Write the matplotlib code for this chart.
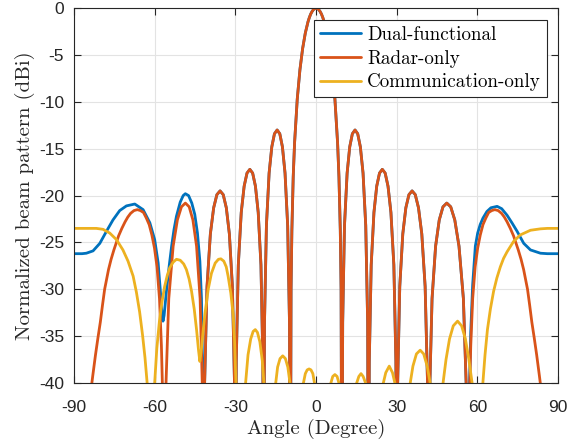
import numpy as np
import matplotlib
matplotlib.use("Agg")
import matplotlib.pyplot as plt

# beam pattern samples, angle in degrees / gain in dB (values below -40 are just off-axis)
radar_angle = [
    -90, -84.0, -83.0, -82.0, -81.1, -80.2, -79.4, -78.6, -77.16, -76.2, -75.16, -73.41, -72.2, -71.0,
    -70.0, -68.96, -67.7, -66.44, -65.3, -64.16, -63.1, -62.04,
    -61.04, -60.07, -59.13, -58.21, -57.5, -56.97, -56.44,
    -55.93, -54.76, -53.13, -51.56, -50.05, -48.59, -47.17, -45.79, -44.43, -43.11, -42.20, -41.81,
    -41.43, -40.54, -39.30, -38.07, -36.87, -35.69, -34.52, -33.37, -32.23, -31.11, -30.33, -30.0,
    -29.67, -28.91, -27.82, -26.74, -25.68, -24.62, -23.58, -22.54, -21.51, -20.49, -19.78, -19.47,
    -19.17, -18.46, -17.46, -16.46, -15.47, -14.48, -13.49, -12.51, -11.54, -10.56, -9.89, -9.59,
    -9.3, -9, -8.5, -8, -7, -6, -5, -4, -3, -2.5, -2, -1.5, -1, -0.5, 0,
    0.5, 1, 1.5, 2, 2.5, 3, 4, 5, 6, 7, 8, 8.5, 9, 9.3,
    9.59, 9.89, 10.56, 11.54, 12.51, 13.49, 14.48, 15.47, 16.46, 17.46, 18.46, 19.17,
    19.47, 19.78, 20.49, 21.51, 22.54, 23.58, 24.62, 25.68, 26.74, 27.82, 28.91, 29.67,
    30.0, 30.33, 31.11, 32.23, 33.37, 34.52, 35.69, 36.87, 38.07, 39.30, 40.54, 41.43,
    41.81, 42.20, 43.11, 44.43, 45.79, 47.17, 48.59, 50.05, 51.56, 53.13, 54.76, 55.93,
    56.44, 56.97, 57.5, 58.21, 59.13, 60.07, 61.04, 62.04, 63.1, 64.16, 65.3, 66.44, 67.7,
    68.96, 70.0, 71.0, 72.2, 73.41, 75.16, 76.2, 77.16, 78.6, 79.4, 80.2, 81.1, 82.0, 83.0, 84.0, 90,
]
radar_db = [
    -60, -41.5, -39.2, -37.0, -35.2, -33.5, -31.7, -30.0, -27.9, -26.8, -25.8, -24.3, -23.5, -22.8,
    -22.3, -21.9, -21.6, -21.5, -21.6, -21.8, -22.4, -23.1,
    -24.2, -25.6, -27.6, -31.0, -36.0, -42.0, -60,
    -41.3, -31.0, -25.4, -22.6, -21.2, -20.8, -21.2, -22.6, -25.4, -31.0, -41.3, -60,
    -40.0, -29.7, -24.1, -21.3, -19.9, -19.5, -19.9, -21.3, -24.1, -29.7, -40.0, -60,
    -37.7, -27.4, -21.8, -19.0, -17.6, -17.2, -17.6, -19.0, -21.8, -27.4, -37.7, -60,
    -33.5, -23.2, -17.6, -14.8, -13.4, -13.0, -13.4, -14.8, -17.6, -23.2, -33.5, -60,
    -30.0, -23.7, -18.0, -14.4, -9.7, -6.56, -4.31, -2.65, -1.45, -1.0, -0.63, -0.36, -0.16, -0.04, 0,
    -0.04, -0.16, -0.36, -0.63, -1.0, -1.45, -2.65, -4.31, -6.56, -9.7, -14.4, -18.0, -23.7, -30.0,
    -60, -33.5, -23.2, -17.6, -14.8, -13.4, -13.0, -13.4, -14.8, -17.6, -23.2, -33.5,
    -60, -37.7, -27.4, -21.8, -19.0, -17.6, -17.2, -17.6, -19.0, -21.8, -27.4, -37.7,
    -60, -40.0, -29.7, -24.1, -21.3, -19.9, -19.5, -19.9, -21.3, -24.1, -29.7, -40.0,
    -60, -41.3, -31.0, -25.4, -22.6, -21.2, -20.8, -21.2, -22.6, -25.4, -31.0, -41.3,
    -60, -42.0, -36.0, -31.0, -27.6, -25.6, -24.2, -23.1, -22.4, -21.8, -21.6, -21.5, -21.6,
    -21.9, -22.3, -22.8, -23.5, -24.3, -25.8, -26.8, -27.9, -30.0, -31.7, -33.5, -35.2, -37.0, -39.2, -41.5, -60,
]

dual_angle = [
    -90, -87, -85.4, -82.9, -80.4, -77.9, -75.5, -73.0, -70.5, -67.4, -64.3, -61.8, -60.0,
    -58.7, -57.8, -57.3, -56.9, -56.5, -55.6, -54.6, -53.7, -52.8, -51.9, -50.5, -49.4,
    -48.6, -47.4, -46.2, -45.1, -44.1, -43.2, -42.6, -42.2, -41.81,
    -41.43, -40.54, -39.30, -38.07, -36.87, -35.69, -34.52, -33.37, -32.23, -31.11, -30.33, -30.0,
    -29.67, -28.91, -27.82, -26.74, -25.68, -24.62, -23.58, -22.54, -21.51, -20.49, -19.78, -19.47,
    -19.17, -18.46, -17.46, -16.46, -15.47, -14.48, -13.49, -12.51, -11.54, -10.56, -9.89, -9.59,
    -9.3, -9, -8.5, -8, -7, -6, -5, -4, -3, -2.5, -2, -1.5, -1, -0.5, 0,
    0.5, 1, 1.5, 2, 2.5, 3, 4, 5, 6, 7, 8, 8.5, 9, 9.3,
    9.59, 9.89, 10.56, 11.54, 12.51, 13.49, 14.48, 15.47, 16.46, 17.46, 18.46, 19.17,
    19.47, 19.78, 20.49, 21.51, 22.54, 23.58, 24.62, 25.68, 26.74, 27.82, 28.91, 29.67,
    30.0, 30.33, 31.11, 32.23, 33.37, 34.52, 35.69, 36.87, 38.07, 39.30, 40.54, 41.43,
    41.81, 42.20, 43.11, 44.43, 45.79, 47.17, 48.59, 50.05, 51.56, 53.13, 54.76, 55.93,
    56.44, 56.97, 57.5, 58.21, 59.2, 60.07, 61.0, 62.04, 63.5, 65.0, 67.3, 69.0, 71.0,
    72.8, 74.7, 77.2, 79.7, 83.4, 86, 90,
]
dual_db = [
    -26.2, -26.2, -26.15, -25.9, -25.1, -23.8, -22.6, -21.6, -21.1, -20.9, -21.5, -22.9, -24.7,
    -27.2, -30.5, -32.6, -33.4, -32.8, -30.1, -27.5, -25.4, -23.6, -22.2, -20.7, -20.0,
    -19.8, -20.0, -20.8, -22.0, -24.0, -27.0, -31.0, -38.0, -60,
    -40.0, -29.7, -24.1, -21.3, -19.9, -19.5, -19.9, -21.3, -24.1, -29.7, -40.0, -60,
    -37.7, -27.4, -21.8, -19.0, -17.6, -17.2, -17.6, -19.0, -21.8, -27.4, -37.7, -60,
    -33.5, -23.2, -17.6, -14.8, -13.4, -13.0, -13.4, -14.8, -17.6, -23.2, -33.5, -60,
    -30.0, -23.7, -18.0, -14.4, -9.7, -6.56, -4.31, -2.65, -1.45, -1.0, -0.63, -0.36, -0.16, -0.04, 0,
    -0.04, -0.16, -0.36, -0.63, -1.0, -1.45, -2.65, -4.31, -6.56, -9.7, -14.4, -18.0, -23.7, -30.0,
    -60, -33.5, -23.2, -17.6, -14.8, -13.4, -13.0, -13.4, -14.8, -17.6, -23.2, -33.5,
    -60, -37.7, -27.4, -21.8, -19.0, -17.6, -17.2, -17.6, -19.0, -21.8, -27.4, -37.7,
    -60, -40.0, -29.7, -24.1, -21.3, -19.9, -19.5, -19.9, -21.3, -24.1, -29.7, -40.0,
    -60, -41.3, -31.0, -25.4, -22.6, -21.2, -20.8, -21.2, -22.6, -25.4, -31.0, -41.3,
    -60, -41.0, -34.5, -29.5, -25.4, -24.0, -23.1, -22.4, -21.7, -21.3, -21.15, -21.4, -22.1,
    -22.9, -23.8, -25.1, -25.8, -26.15, -26.2, -26.2,
]

comm_angle = [
    -90, -86, -81.7, -79.2, -76.7, -74.2, -71.8, -69.9, -68.0, -66.8, -65.6, -64.5, -63.6, -62.8, -61.4,
    -60.0, -59.2, -58.2, -57.2, -56.3, -55.3, -54.4, -53.1, -51.9, -50.5, -49.2, -48.2, -47.2,
    -46.3, -45.3, -44.4, -43.7, -43.2, -42.6, -41.9, -41.3, -40.1, -38.9, -37.5, -36.3, -35.4,
    -34.3, -33.4, -32.7, -31.7, -30.8, -30.3, -29.8, -28.0,
    -26.2, -25.3, -24.3, -23.4, -22.6, -21.8, -20.9, -20.0, -19.4, -17.2,
    -15.0, -14.3, -13.4, -12.4, -11.4, -10.5, -9.7, -7.2,
    -4.7, -4.0, -3.3, -2.6, -1.9, -1.2, -0.6, 2.5,
    5.5, 6.2, 7.0, 7.8, 8.5, 11.8,
    15.1, 15.9, 16.7, 17.5, 18.4, 21.7,
    25.0, 25.9, 27.2, 28.4, 29.3, 32.1,
    35.0, 36.0, 37.3, 38.7, 40.0, 41.3, 42.4, 44.8,
    47.2, 48.3, 49.6, 51.0, 52.6, 54.1, 55.5, 56.8, 58.0, 60.0,
    62.0, 62.8, 63.7, 64.8, 66.0, 67.2, 68.5, 69.7, 71.0, 73.4, 75.9, 79.7, 83.4, 86, 90,
]
comm_db = [
    -23.5, -23.5, -23.5, -23.6, -24.0, -24.7, -25.8, -27.0, -28.6, -30.3, -32.4, -34.9, -37.3, -40.0, -60,
    -40.0, -36.3, -33.3, -31.2, -29.7, -28.5, -27.7, -27.1, -26.8, -26.9, -27.3, -27.9, -28.9,
    -30.2, -32.1, -34.4, -36.5, -37.7, -36.3, -34.2, -32.6, -30.0, -28.3, -27.2, -26.8, -26.75,
    -27.0, -27.6, -28.6, -30.4, -32.8, -35.5, -40.0, -60,
    -40.0, -37.0, -35.3, -34.5, -34.3, -34.6, -35.6, -37.6, -40.0, -60,
    -40.0, -38.3, -37.4, -37.1, -37.4, -38.3, -40.0, -60,
    -40.0, -39.0, -38.6, -38.5, -38.6, -39.0, -40.0, -60,
    -40.0, -39.3, -39.1, -39.3, -40.0, -60,
    -40.0, -39.3, -39.0, -39.3, -40.0, -60,
    -40.0, -38.9, -38.2, -38.9, -40.0, -60,
    -40.0, -38.2, -36.9, -36.5, -36.9, -38.2, -40.0, -60,
    -40.0, -37.5, -35.3, -33.9, -33.4, -33.9, -35.3, -37.5, -40.0, -60,
    -40.0, -37.0, -34.3, -32.1, -30.2, -28.8, -27.6, -26.7, -26.0, -24.9, -24.2, -23.7, -23.55, -23.5, -23.5,
]

x_ticks = [-90, -60, -30, 0, 30, 60, 90]
y_ticks = [-40, -35, -30, -25, -20, -15, -10, -5, 0]

plt.rcParams['axes.unicode_minus'] = False

fig = plt.figure(figsize=(5.69, 4.42), dpi=100)
ax = fig.add_axes([0.130, 0.1335, 0.851, 0.848])

line_kw = dict(lw=2.0, solid_joinstyle='round', solid_capstyle='round')
ax.plot(dual_angle, dual_db, color='#0072BD', label='Dual-functional', **line_kw)
ax.plot(radar_angle, radar_db, color='#D95319', label='Radar-only', **line_kw)
ax.plot(comm_angle, comm_db, color='#EDB120', label='Communication-only', **line_kw)

ax.set_xlim(-90, 90)
ax.set_ylim(-40, 0)
ax.set_xticks(x_ticks)
ax.set_yticks(y_ticks)
ax.grid(True, color='#e3e3e3', lw=0.8)
ax.set_axisbelow(True)

for s in ax.spines.values():
    s.set_color('#262626')
    s.set_linewidth(0.8)
ax.tick_params(direction='in', top=True, right=True, length=5, width=0.8,
               color='#262626', labelcolor='#262626')
ax.tick_params(axis='x', pad=12)
ax.tick_params(axis='y', pad=7)
for lbl in ax.get_xticklabels() + ax.get_yticklabels():
    lbl.set_fontfamily('Liberation Sans')
    lbl.set_fontsize(12.5)

ax.set_xlabel('Angle (Degree)', fontfamily='cmr10', fontsize=15, color='#262626', labelpad=3)
ax.set_ylabel('Normalized beam pattern (dBi)', fontfamily='cmr10', fontsize=15,
              color='#262626', labelpad=3)

leg = ax.legend(loc='upper right', bbox_to_anchor=(0.976, 0.968),
                prop={'family': 'cmr10', 'size': 13.7},
                fancybox=False, framealpha=1, edgecolor='#262626',
                handlelength=2.2, handletextpad=0.3, labelspacing=0.3,
                borderpad=0.3, borderaxespad=0)
leg.get_frame().set_linewidth(0.8)

fig.savefig('out.png', dpi=100)
